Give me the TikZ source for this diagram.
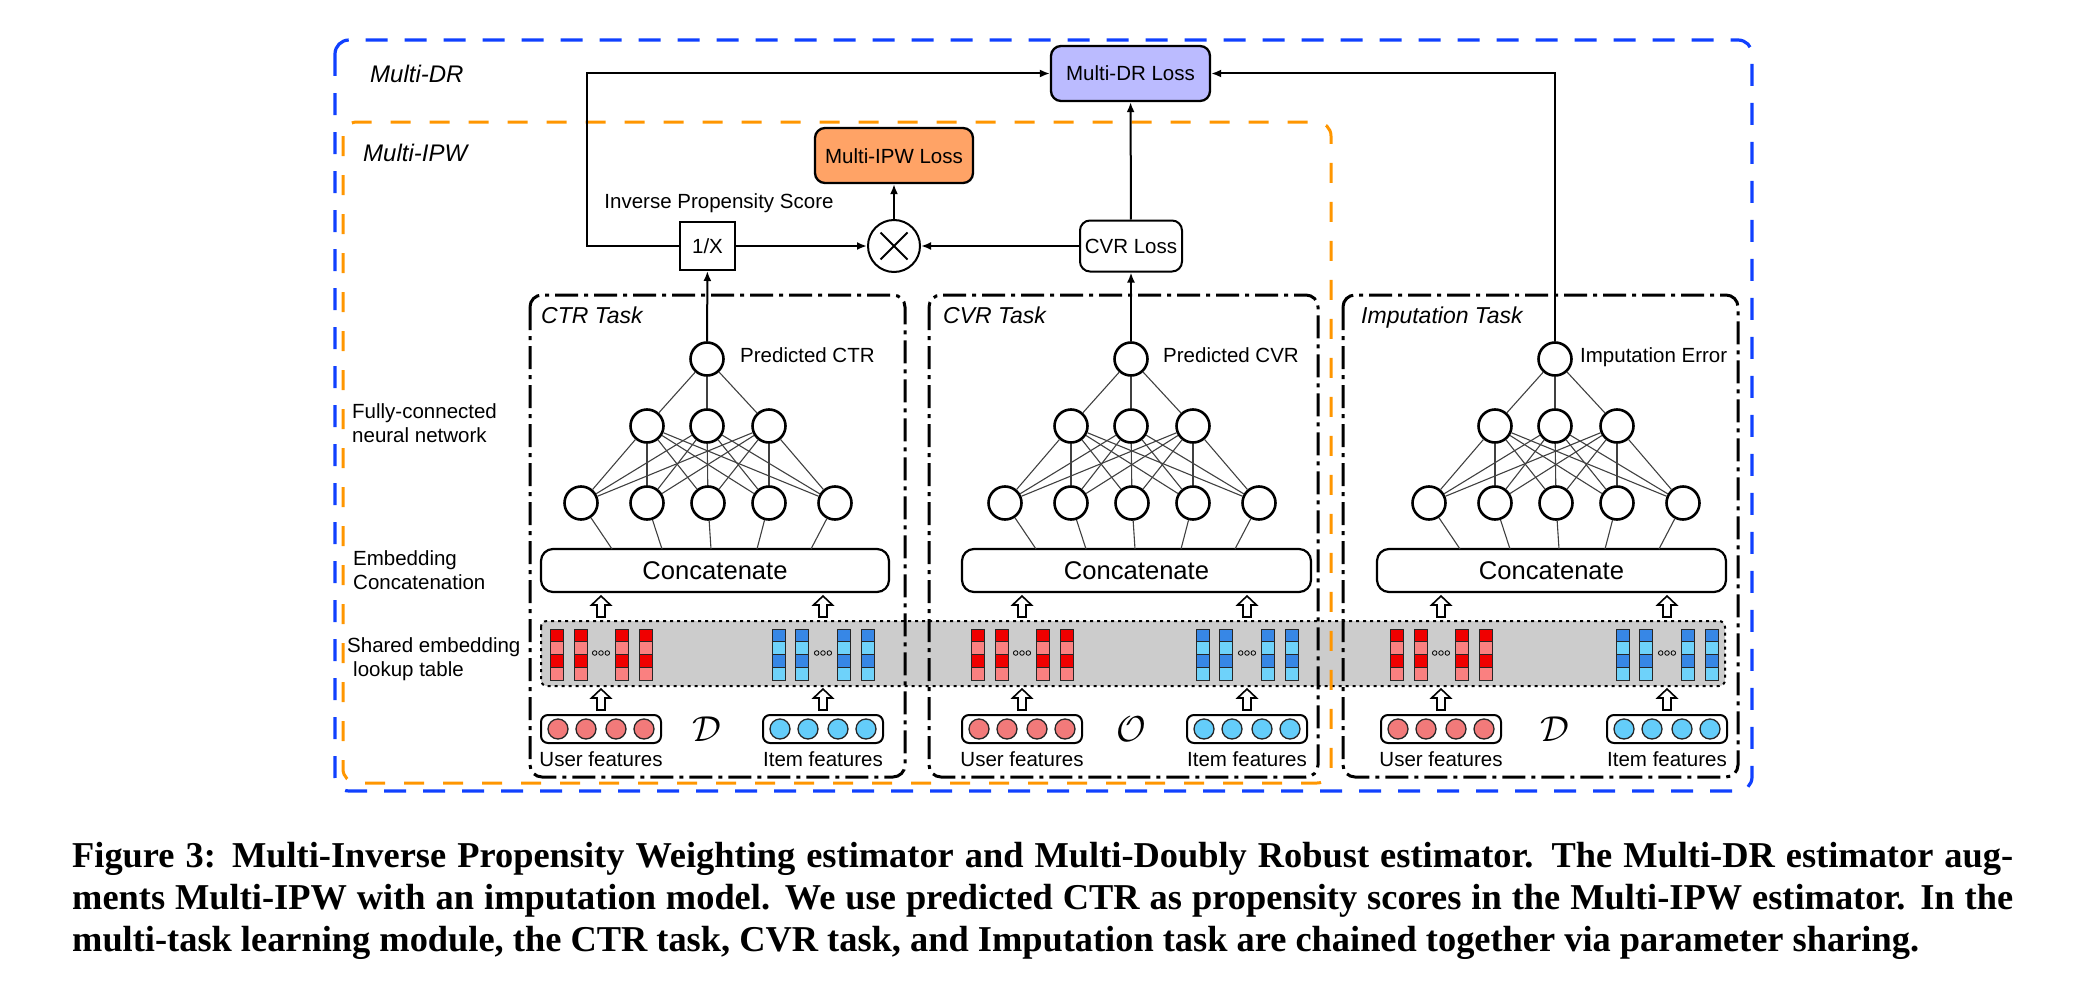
\RequirePackage{fix-cm}
\documentclass[tikz,border=0pt]{standalone}
\usepackage{fontspec}
\setmainfont{Liberation Sans}
\newfontfamily\capfont{Liberation Serif}
\usetikzlibrary{arrows.meta}
\definecolor{reddark}{RGB}{240,0,0}
\definecolor{redlight}{RGB}{250,128,128}
\definecolor{bluedark}{RGB}{55,135,230}
\definecolor{bluelight}{RGB}{110,210,250}
\definecolor{usercirc}{RGB}{242,122,122}
\definecolor{itemcirc}{RGB}{100,205,250}
\definecolor{lavender}{RGB}{187,187,255}
\definecolor{orangefill}{RGB}{255,163,102}
\definecolor{grayband}{RGB}{204,204,204}
\definecolor{drblue}{RGB}{16,64,255}
\definecolor{ipworange}{RGB}{255,150,0}
\newsavebox\capmeasure
\newcommand\hollowarrow[2]{%
  \draw[line width=1.6pt, fill=white] (#1,#2) -- ({#1+9.5},{#2+9}) -- ({#1+4},{#2+9}) -- ({#1+4},{#2+21}) -- ({#1-4},{#2+21}) -- ({#1-4},{#2+9}) -- ({#1-9.5},{#2+9}) -- cycle;}
\newcommand\embcol[3]{%
  \foreach \k/\cl in {0/#2,1/#3,2/#2,3/#3}{%
    \filldraw[fill=\cl, draw=black!85, line width=0.9pt] ({#1-6.5},{629+12.75*\k}) rectangle ({#1+6.5},{629+12.75*(\k+1)});}}
\newcommand\ooo[1]{\foreach \d in {-6.3,0,6.3} \draw[line width=0.8pt] ({#1+\d},653) circle[radius=2.3pt];}
\begin{document}
\sbox\capmeasure{\capfont\bfseries\fontsize{37}{42}\selectfont multi-task learning module, the CTR task, CVR task, and Imputation task are chained together via parameter sharing.}%
\pgfmathsetmacro\capfs{1847/\wd\capmeasure*37}%
\begin{tikzpicture}[x=1pt,y=-1pt,
  txt/.style={font=\fontsize{20.5}{24}\selectfont, inner sep=0},
  ttl/.style={font=\fontsize{23}{27}\selectfont\itshape, inner sep=0, anchor=base west},
  biglab/.style={font=\fontsize{24}{28}\selectfont\itshape, inner sep=0, anchor=base west},
  neuron/.style={circle, draw, line width=2.6pt, minimum size=33pt, inner sep=0, fill=white},
  featc/.style={circle, draw=black!85, line width=1.3pt, minimum size=20pt, inner sep=0},
  featbox/.style={draw, rounded corners=7pt, line width=2pt, minimum width=120pt, minimum height=28pt, inner sep=0},
  lossbox/.style={draw, line width=2.3pt, inner sep=0, text height=15pt, text depth=0pt, font=\fontsize{20.5}{24}\selectfont},
  arr/.style={-{Latex[length=10pt,width=8pt]}, line width=2pt},
  conn/.style={line width=1.1pt, black!75},
  taskbox/.style={line width=3pt, dash pattern=on 23pt off 6pt on 4pt off 6pt, rounded corners=12pt},
  capline/.style={inner sep=0, anchor=base west, font=\capfont\bfseries\fontsize{\capfs}{42}\selectfont}
]
\useasboundingbox (0,0) rectangle (2078,998);

% shared embedding band
\draw[fill=grayband, line width=2pt, dash pattern=on 3pt off 4pt, rounded corners=6pt] (541,621) rectangle (1725,686);

% outer boxes
\draw[drblue, line width=3.2pt, dash pattern=on 22pt off 17pt, rounded corners=14pt] (335,40) rectangle (1752,791);
\draw[ipworange, line width=3pt, dash pattern=on 20pt off 19pt, rounded corners=14pt] (343,122) rectangle (1331,783);
\node[biglab] (mdrl) at (370,82) {Multi-DR};
\node[biglab] (mipwl) at (363,161) {Multi-IPW};

% left side labels
\node[txt, anchor=base west] (fc1) at (352,418) {Fully-connected};
\node[txt, anchor=base west] (fc2) at (352,442) {neural network};
\node[txt, anchor=base west] (ec1) at (353,565) {Embedding};
\node[txt, anchor=base west] (ec2) at (353,589) {Concatenation};
\node[txt, anchor=base west] (se1) at (347,652) {Shared embedding};
\node[txt, anchor=base west] (se2) at (353,676) {lookup table};

\foreach \n/\cx/\bl/\br/\tx/\kl/\kr/\gx/\hx/\sym/\ttl/\lab/\lx in {
  ctr/707/530/905/541/541/889/601/823/D/CTR Task/Predicted CTR/33,
  cvr/1131/929/1318/943/962/1311/1022/1247/O/CVR Task/Predicted CVR/32,
  imp/1555/1343/1738/1361/1377/1726/1441/1667/D/Imputation Task/Imputation Error/25}{
  \draw[taskbox] (\bl,295) rectangle (\br,777);
  \node[ttl] (\n-title) at (\tx,323) {\ttl};
  % network
  \node[neuron] (\n-o) at (\cx,359) {};
  \node[txt, anchor=base west] (\n-lab) at ({\cx+\lx},362) {\lab};
  \foreach \i/\dx in {1/-60,2/0,3/62} \node[neuron] (\n-m\i) at ({\cx+\dx},426) {};
  \foreach \i/\dx in {1/-126,2/-60,3/1,4/62,5/128} \node[neuron] (\n-h\i) at ({\cx+\dx},503) {};
  \foreach \i in {1,...,5} \foreach \j in {1,2,3} \draw[conn] (\n-h\i) -- (\n-m\j);
  \foreach \j in {1,2,3} \draw[conn] (\n-m\j) -- (\n-o);
  \node[draw, rounded corners=12pt, line width=2.2pt, minimum width={(\kr-\kl)*1pt}, minimum height=43pt, inner sep=0,
        font=\fontsize{25.6}{30}\selectfont, text height=18.3pt, text depth=0pt] (\n-cat) at ({(\kl+\kr)/2},570.5) {Concatenate};
  \foreach \i/\dx in {1/-95,2/-45,3/4,4/50,5/104}{
    \coordinate (\n-k\i) at ({\cx+\dx},549);
    \draw[conn] (\n-h\i) -- (\n-k\i);}
  % hollow arrows
  \hollowarrow{\gx}{596}
  \hollowarrow{\hx}{596}
  \hollowarrow{\gx}{689}
  \hollowarrow{\hx}{689}
  % embedding columns
  \foreach \dx in {-44,-20,21,45} {\embcol{\gx+\dx}{reddark}{redlight}}
  \foreach \dx in {-44,-21,21,45} {\embcol{\hx+\dx}{bluedark}{bluelight}}
  \ooo{\gx}
  \ooo{\hx}
  % features
  \node[featbox] (\n-ub) at (\gx,729) {};
  \foreach \i/\dx in {1/-43,2/-15,3/15,4/43} \node[featc, fill=usercirc] (\n-u\i) at ({\gx+\dx},729) {};
  \node[featbox] (\n-ib) at (\hx,729) {};
  \foreach \i/\dx in {1/-43,2/-15,3/15,4/43} \node[featc, fill=itemcirc] (\n-i\i) at ({\hx+\dx},729) {};
  \node[txt, anchor=base] (\n-ul) at (\gx,766) {User features};
  \node[txt, anchor=base] (\n-il) at (\hx,766) {Item features};
  \node[inner sep=0, font=\fontsize{36}{40}\selectfont] (\n-sym) at (\cx,729) {$\mathcal{\sym}$};
}

% loss part
\node[lossbox, fill=lavender, rounded corners=10pt, minimum width=159pt, minimum height=55pt] (mdr) at (1130.5,73.5) {Multi-DR Loss};
\node[lossbox, fill=orangefill, rounded corners=10pt, minimum width=158pt, minimum height=55pt] (ipw) at (894,155.5) {Multi-IPW Loss};
\node[lossbox, fill=white, line width=2pt, minimum width=55pt, minimum height=48pt] (ips) at (707.5,246) {1/X};
\node[lossbox, fill=white, line width=2pt, rounded corners=10pt, minimum width=102pt, minimum height=51pt] (cvrl) at (1131,246) {CVR Loss};
\node[circle, draw, fill=white, line width=2pt, minimum size=52pt, inner sep=0] (mul) at (894,246) {};
\draw[line width=2pt] ([shift={(-13.5,-13.5)}]mul.center) -- ([shift={(13.5,13.5)}]mul.center);
\draw[line width=2pt] ([shift={(-13.5,13.5)}]mul.center) -- ([shift={(13.5,-13.5)}]mul.center);
\node[txt, anchor=base] (ipsl) at (719,208) {Inverse Propensity Score};
\coordinate (turn) at (587,246);

\draw[arr] (ctr-o) -- (ips);
\draw[arr] (ips) -- (mul);
\draw[arr] (cvrl) -- (mul);
\draw[arr] (mul) -- (ipw);
\draw[arr] (cvr-o) -- (cvrl);
\draw[arr] (cvrl) -- (mdr);
\draw[arr] (ips.west) -- (turn) |- (mdr.west);
\draw[arr] (imp-o) |- (mdr.east);

% caption
\node[capline] (cap1) at (72,867) {\makebox[1941pt][s]{Figure 3: Multi-Inverse Propensity Weighting estimator and Multi-Doubly Robust estimator. The Multi-DR estimator aug-}};
\node[capline] (cap2) at (72,909) {\makebox[1941pt][s]{ments Multi-IPW with an imputation model. We use predicted CTR as propensity scores in the Multi-IPW estimator. In the}};
\node[capline] (cap3) at (72,951) {multi-task learning module, the CTR task, CVR task, and Imputation task are chained together via parameter sharing.};
\end{tikzpicture}
\end{document}
